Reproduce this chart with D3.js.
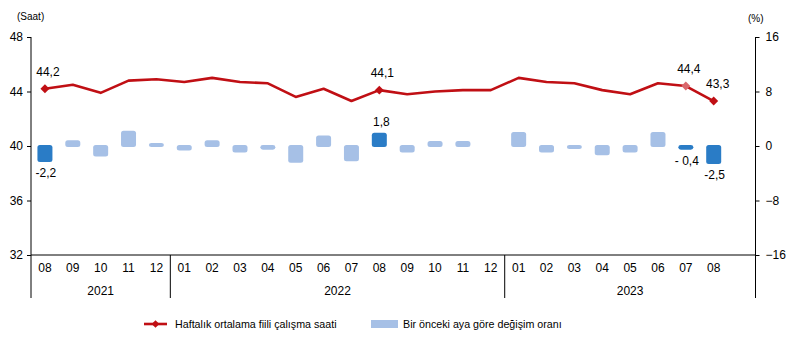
<!DOCTYPE html>
<html>
<head>
<meta charset="utf-8">
<script src="https://cdn.jsdelivr.net/npm/d3@7"></script>
<style>
  html, body { margin: 0; padding: 0; background: #fff; }
  svg { display: block; font-family: "Liberation Sans", Arial, sans-serif; }
</style>
</head>
<body>
<div id="chart"></div>
<script>
// ---- Data ----
const months = ["08","09","10","11","12","01","02","03","04","05","06","07","08","09","10","11","12","01","02","03","04","05","06","07","08"];
const years = [
  { label: "2021", start: 0, end: 5 },
  { label: "2022", start: 5, end: 17 },
  { label: "2023", start: 17, end: 26 }
];
const hours = [44.2,44.5,43.9,44.8,44.9,44.7,45.0,44.7,44.6,43.6,44.2,43.3,44.1,43.8,44.0,44.1,44.1,45.0,44.7,44.6,44.1,43.8,44.6,44.4,43.3];
const change = [-2.2,0.7,-1.4,2.1,0.3,-0.5,0.7,-0.8,-0.4,-2.3,1.4,-2.1,1.8,-0.8,0.6,0.6,0.0,1.9,-0.8,-0.3,-1.2,-0.8,1.9,-0.4,-2.5];
const highlighted = [0, 12, 23, 24];
const hourLabels = { 0: "44,2", 12: "44,1", 23: "44,4", 24: "43,3" };
const changeLabels = { 0: "-2,2", 12: "1,8", 23: "- 0,4", 24: "-2,5" };
const leftTicks = [32, 36, 40, 44, 48];
const rightTicks = [-16, -8, 0, 8, 16];
const legendLine = "Haftalık ortalama fiili çalışma saati";
const legendBar = "Bir önceki aya göre değişim oranı";

// ---- Layout ----
const W = 791, H = 343;
const mLeft = 31, mRight = 755.5, mTop = 37, mBottom = 255;
const svg = d3.select("#chart").append("svg").attr("width", W).attr("height", H);

const idx = d3.range(26);
const x = d3.scaleBand().domain(idx).range([mLeft, mRight]).paddingInner(0).paddingOuter(0);
const yL = d3.scaleLinear().domain([32, 48]).range([mBottom, mTop]);
const yR = d3.scaleLinear().domain([-16, 16]).range([mBottom, mTop]);

const lineColor = "#c00f14";
const lightBar = "#a6c0e6";
const darkBar = "#2a7cc6";

// Axes
const leftAxis = d3.axisLeft(yL).tickValues(leftTicks).tickSize(4).tickPadding(4);
const gL = svg.append("g").attr("transform", `translate(${mLeft},0)`).call(leftAxis);
const rightAxis = d3.axisRight(yR).tickValues(rightTicks).tickSize(4).tickPadding(6);
const gR = svg.append("g").attr("transform", `translate(${mRight},0)`).call(rightAxis);
[gL, gR].forEach(g => {
  g.selectAll("path.domain").attr("stroke", "#000").attr("d", `M0,${mTop}V${mBottom}`);
  g.selectAll(".tick line").attr("stroke", "#000");
  g.selectAll(".tick text").attr("font-size", 12).attr("fill", "#000")
    .attr("font-family", "Liberation Sans, Arial, sans-serif");
});

// Units
svg.append("text").attr("x", 17).attr("y", 20).attr("font-size", 10).text("(Saat)");
svg.append("text").attr("x", 748).attr("y", 22).attr("font-size", 10).text("(%)");

// X axis line
svg.append("line").attr("x1", mLeft).attr("x2", mRight).attr("y1", mBottom).attr("y2", mBottom).attr("stroke", "#000");
// separators
const seps = [0, 5, 17, 26];
svg.selectAll("line.sep").data(seps).join("line").attr("class", "sep")
  .attr("x1", d => x(d) !== undefined ? x(d) : mRight)
  .attr("x2", d => x(d) !== undefined ? x(d) : mRight)
  .attr("y1", mBottom).attr("y2", 298).attr("stroke", "#000");

// Month labels
svg.selectAll("text.month").data(months).join("text").attr("class", "month")
  .attr("x", (d, i) => x(i) + x.bandwidth() / 2).attr("y", 272)
  .attr("text-anchor", "middle").attr("font-size", 12).text(d => d);
// Year labels
svg.selectAll("text.year").data(years).join("text").attr("class", "year")
  .attr("x", d => (x(d.start) + (d.end >= 26 ? mRight : x(d.end))) / 2).attr("y", 295)
  .attr("text-anchor", "middle").attr("font-size", 12).text(d => d.label);

// Bars
const bw = 15;
svg.selectAll("rect.bar").data(change).join("rect").attr("class", "bar")
  .attr("x", (d, i) => x(i) + x.bandwidth() / 2 - bw / 2)
  .attr("width", bw)
  .attr("y", d => Math.min(yR(d), yR(0)) - 1)
  .attr("height", d => Math.abs(yR(d) - yR(0)) + 2)
  .attr("rx", 2.5).attr("ry", 2.5)
  .attr("fill", (d, i) => highlighted.includes(i) ? darkBar : lightBar)
  .attr("display", d => d === 0 ? "none" : null);

// Line
const line = d3.line().x((d, i) => x(i) + x.bandwidth() / 2).y(d => yL(d));
svg.append("path").datum(hours).attr("d", line).attr("fill", "none")
  .attr("stroke", lineColor).attr("stroke-width", 2.6).attr("stroke-linejoin", "round");

// Markers
svg.selectAll("path.mk").data(highlighted).join("path").attr("class", "mk")
  .attr("d", d3.symbol().type(d3.symbolSquare).size(40))
  .attr("transform", i => `translate(${x(i) + x.bandwidth() / 2},${yL(hours[i])}) rotate(45)`)
  .attr("fill", i => i === 23 ? "#d9676c" : lineColor);

// Line labels
svg.selectAll("text.hl").data(highlighted).join("text").attr("class", "hl")
  .attr("x", i => x(i) + x.bandwidth() / 2 + (i === 24 ? 4 : 3))
  .attr("y", i => yL(hours[i]) - 13)
  .attr("text-anchor", "middle").attr("font-size", 12).text(i => hourLabels[i]);

// Bar labels
svg.selectAll("text.cl").data(highlighted).join("text").attr("class", "cl")
  .attr("x", i => x(i) + x.bandwidth() / 2 + (i === 12 ? 2 : 1))
  .attr("y", i => change[i] >= 0 ? yR(change[i]) - 8 : yR(change[i]) + 16)
  .attr("text-anchor", "middle").attr("font-size", 12).text(i => changeLabels[i]);

// Legend
const lg = svg.append("g");
lg.append("line").attr("x1", 144).attr("x2", 167).attr("y1", 324).attr("y2", 324)
  .attr("stroke", lineColor).attr("stroke-width", 2.6);
lg.append("path").attr("d", d3.symbol().type(d3.symbolSquare).size(30))
  .attr("transform", "translate(155.5,324) rotate(45)").attr("fill", lineColor);
lg.append("text").attr("x", 175).attr("y", 328).attr("font-size", 10.7).text(legendLine);
lg.append("rect").attr("x", 371).attr("y", 320).attr("width", 27).attr("height", 8).attr("fill", lightBar);
lg.append("text").attr("x", 403).attr("y", 328).attr("font-size", 10.7).text(legendBar);
</script>
</body>
</html>
